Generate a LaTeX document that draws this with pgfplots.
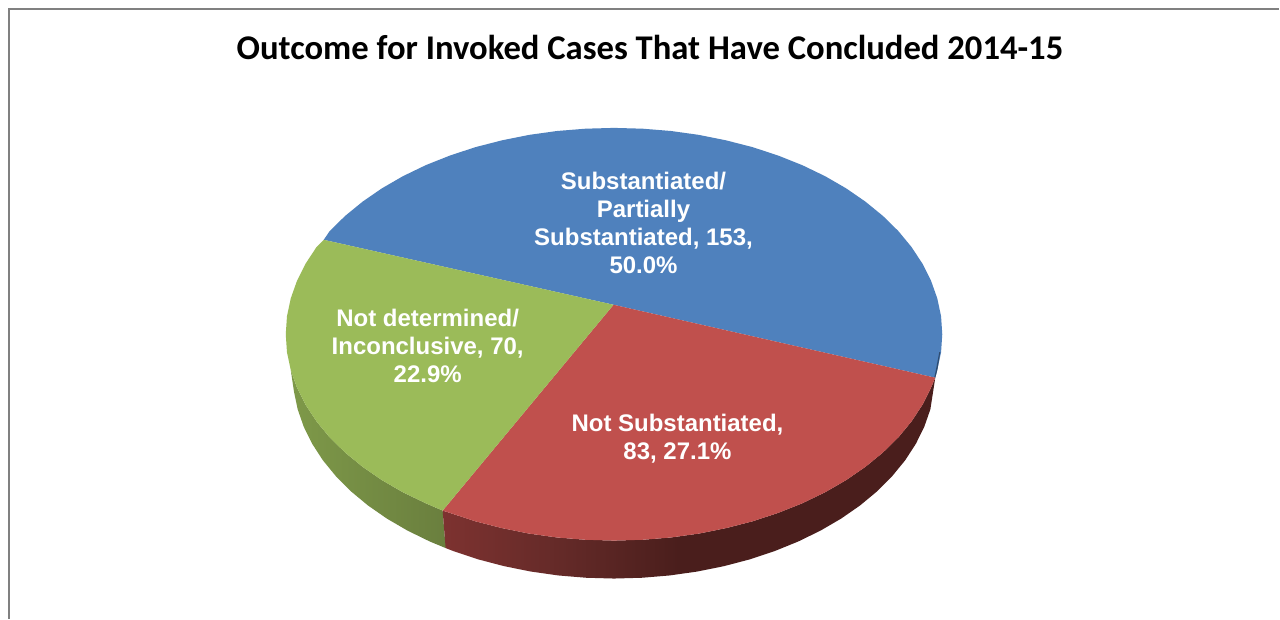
\documentclass[border=0pt]{standalone}
\usepackage{fontspec}
\setmainfont{Liberation Sans}
\newfontfamily\titlefont{Carlito}
\usepackage{pgfplots}
\pgfplotsset{compat=1.18}

\definecolor{pieblue}{HTML}{4F81BD}
\definecolor{piebluedark}{HTML}{2E4B6E}
\definecolor{piered}{HTML}{C0504D}
\definecolor{piegreen}{HTML}{9BBB59}
\definecolor{framegray}{HTML}{808080}
\definecolor{redA}{HTML}{7D3230}
\definecolor{redB}{HTML}{642A28}
\definecolor{redC}{HTML}{4A1E1C}
\definecolor{greenA}{HTML}{7E9949}
\definecolor{greenB}{HTML}{6A7F3E}

% side walls; the path box takes the 25bp..75bp part of the shading
\pgfdeclarehorizontalshading{redside}{100bp}{
  color(0bp)=(redA);
  color(25bp)=(redA);
  color(37bp)=(redB);
  color(49bp)=(redC);
  color(100bp)=(redC)}
\pgfdeclarehorizontalshading{greenside}{100bp}{
  color(0bp)=(greenA);
  color(25bp)=(greenA);
  color(75bp)=(greenB);
  color(100bp)=(greenB)}

\begin{document}
\begin{tikzpicture}
\begin{axis}[
    scale only axis,
    width=640pt,
    height=309.5pt,
    xmin=0, xmax=1280,
    ymin=0, ymax=619,
    y dir=reverse,
    hide axis,
    clip=false,
  ]

  % page extent and chart frame (no bottom edge)
  \addplot[draw=none, fill=white] coordinates {(0,0) (1280,0) (1280,619) (0,619)} --cycle;
  \addplot[draw=framegray, line width=1pt] coordinates {(9.5,619) (9.5,9.5) (1280,9.5)};

  % green side wall
  \addplot[draw=none, shade, shading=greenside] coordinates {
    (291.0,370.4) (297.2,387.9) (305.8,405.1) (316.8,421.8) (330.0,437.8)
    (345.4,452.9) (362.9,467.2) (382.2,480.5) (403.3,492.7) (426.1,503.7)
    (443,511) (446,548.5) (430.1,541.9) (407.8,531.0) (387.2,519.0)
    (368.2,505.8) (351.1,491.6) (336.1,476.5) (323.1,460.6) (312.4,444.1)
    (304.0,427.1) (297.9,409.6) (294.2,391.9)
  } --cycle;

  % red side wall
  \addplot[draw=none, shade, shading=redside] coordinates {
    (936,378) (931.8,387.9) (923.2,405.1) (912.2,421.8) (899.0,437.8)
    (883.6,452.9) (866.1,467.2) (846.8,480.5) (825.7,492.7) (802.9,503.7)
    (778.8,513.3) (753.3,521.7) (726.8,528.5) (699.5,534.0) (671.5,537.9)
    (643.1,540.2) (614.5,541) (585.9,540.2) (557.5,537.9) (529.5,534.0)
    (502.2,528.5) (475.7,521.7) (450.2,513.3) (443,511) (446,548.5)
    (453.7,551.5) (478.6,559.8) (504.5,566.6) (531.3,572.0) (558.7,575.9)
    (586.5,578.2) (614.5,579) (642.5,578.2) (670.3,575.9) (697.7,572.0)
    (724.5,566.6) (750.4,559.8) (775.3,551.5) (798.9,541.9) (821.2,531.0)
    (841.8,519.0) (860.8,505.8) (877.9,491.6) (892.9,476.5) (905.9,460.6)
    (916.6,444.1) (925.0,427.1) (931.1,409.6)
  } --cycle;

  % top: Substantiated/Partially Substantiated, 153
  \addplot[draw=none, fill=pieblue] coordinates {
    (614,305) (324,240) (330.0,231.2) (345.4,216.1) (362.9,201.8) (382.2,188.5)
    (403.3,176.3) (426.1,165.3) (450.2,155.7) (475.7,147.3) (502.2,140.5)
    (529.5,135.0) (557.5,131.1) (585.9,128.8) (614.5,128) (643.1,128.8)
    (671.5,131.1) (699.5,135.0) (726.8,140.5) (753.3,147.3) (778.8,155.7)
    (802.9,165.3) (825.7,176.3) (846.8,188.5) (866.1,201.8) (883.6,216.1)
    (899.0,231.2) (912.2,247.2) (923.2,263.9) (931.8,281.1) (938.0,298.6)
    (941.8,316.5) (943,334.5) (941.8,352.5) (938.0,370.4) (936,378)
  } --cycle;

  % thin dark sliver of the blue wall at the right edge
  \addplot[draw=none, fill=piebluedark] coordinates {
    (936,378) (938.0,370.4) (941.0,352.5) (940.0,352.5) (936.6,370.4) (935,377.8)
  } --cycle;

  % top: Not Substantiated, 83
  \addplot[draw=none, fill=piered] coordinates {
    (614,305) (936,378) (931.8,387.9) (923.2,405.1) (912.2,421.8) (899.0,437.8)
    (883.6,452.9) (866.1,467.2) (846.8,480.5) (825.7,492.7) (802.9,503.7)
    (778.8,513.3) (753.3,521.7) (726.8,528.5) (699.5,534.0) (671.5,537.9)
    (643.1,540.2) (614.5,541) (585.9,540.2) (557.5,537.9) (529.5,534.0)
    (502.2,528.5) (475.7,521.7) (450.2,513.3) (443,511)
  } --cycle;

  % top: Not determined/Inconclusive, 70
  \addplot[draw=none, fill=piegreen] coordinates {
    (614,305) (443,511) (426.1,503.7) (403.3,492.7) (382.2,480.5) (362.9,467.2)
    (345.4,452.9) (330.0,437.8) (316.8,421.8) (305.8,405.1) (297.2,387.9)
    (291.0,370.4) (287.2,352.5) (286,334.5) (287.2,316.5) (291.0,298.6)
    (297.2,281.1) (305.8,263.9) (316.8,247.2) (324,240)
  } --cycle;

  \node[font=\titlefont\bfseries\fontsize{17.33}{22}\selectfont, text=black, inner sep=0pt]
    at (axis cs:650.5,48) {Outcome for Invoked Cases That Have Concluded 2014-15};

  \node[font=\bfseries\fontsize{12}{14}\selectfont, text=white, align=center, inner sep=0pt]
    at (axis cs:644,223) {Substantiated/\\Partially\\Substantiated, 153,\\50.0\%};
  \node[font=\bfseries\fontsize{12}{14}\selectfont, text=white, align=center, inner sep=0pt]
    at (axis cs:678,439.5) {Not Substantiated,\\83, 27.1\%};
  \node[font=\bfseries\fontsize{12}{14}\selectfont, text=white, align=center, inner sep=0pt]
    at (axis cs:428,346) {Not determined/\\Inconclusive, 70,\\22.9\%};

\end{axis}
\end{tikzpicture}
\end{document}
